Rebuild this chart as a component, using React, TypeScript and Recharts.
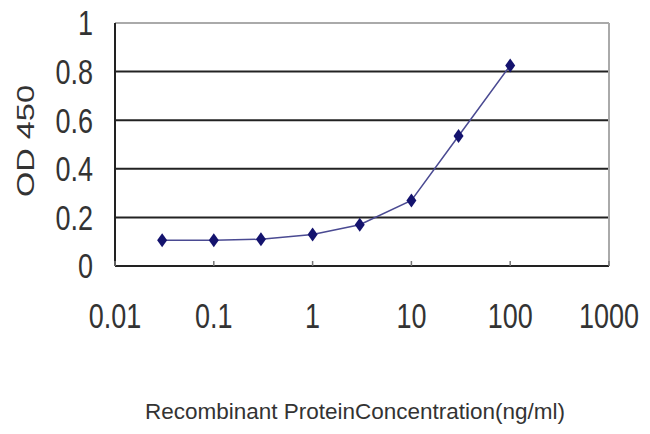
import React from 'react';
import { LineChart, Line, XAxis, YAxis, CartesianGrid, ReferenceLine, Label } from 'recharts';

// ng/ml vs OD 450
const concentrations = [0.03, 0.1, 0.3, 1, 3, 10, 30, 100];
const od450 = [0.106, 0.106, 0.11, 0.13, 0.17, 0.27, 0.535, 0.825];
const xTicks = [0.01, 0.1, 1, 10, 100, 1000];
const yTicks = [0, 0.2, 0.4, 0.6, 0.8, 1];

const data = concentrations.map((c, i) => ({ conc: c, od: od450[i] }));

const FONT = '"Liberation Sans", Arial, sans-serif';

const Diamond = (props: any) => {
  const { cx, cy } = props;
  if (cx == null || cy == null) return null;
  return (
    <polygon
      points={`${cx},${cy - 7} ${cx + 5},${cy} ${cx},${cy + 7} ${cx - 5},${cy}`}
      fill="#14136e"
    />
  );
};

// tick labels in the source are tall and narrow, so stretch them a bit
const XTick = (props: any) => {
  const { x, y, payload } = props;
  const axisY = y - 44;
  return (
    <g>
      <line x1={x} x2={x} y1={axisY} y2={axisY - 5} stroke="#777" strokeWidth={1.5} />
      <text
        transform={`translate(${x},${axisY + 62}) scale(1,1.3)`}
        textAnchor="middle"
        fill="#333"
        fontSize={27}
        fontFamily={FONT}
      >
        {payload.value}
      </text>
    </g>
  );
};

const YTick = (props: any) => {
  const { x, y, payload } = props;
  return (
    <text
      transform={`translate(${x},${y}) scale(1,1.3)`}
      y={9.5}
      textAnchor="end"
      fill="#333"
      fontSize={27}
      fontFamily={FONT}
    >
      {payload.value}
    </text>
  );
};

const App = () => {
  return (
    <div style={{ position: 'absolute', left: 0, top: 0, background: '#fff' }}>
      <LineChart width={650} height={434} data={data} margin={{ top: 23, right: 41, left: 0, bottom: 0 }}>
        <CartesianGrid vertical={false} horizontalValues={[0.2, 0.4, 0.6, 0.8]} stroke="#222" strokeWidth={2} />
        <ReferenceLine y={1} stroke="#aaa" strokeWidth={2} />
        <ReferenceLine x={1000} stroke="#aaa" strokeWidth={2} />
        <XAxis
          dataKey="conc"
          type="number"
          scale="log"
          domain={[0.01, 1000]}
          ticks={xTicks}
          allowDataOverflow
          height={168}
          tickSize={0}
          tickMargin={44}
          tick={<XTick />}
          axisLine={{ stroke: '#222', strokeWidth: 2 }}
          tickLine={false}
        >
          <Label
            content={() => (
              <text
                x={355}
                y={419}
                textAnchor="middle"
                fill="#333"
                fontSize={22}
                fontFamily={FONT}
                textLength={420}
                lengthAdjust="spacingAndGlyphs"
              >
                Recombinant ProteinConcentration(ng/ml)
              </text>
            )}
          />
        </XAxis>
        <YAxis
          type="number"
          domain={[0, 1]}
          ticks={yTicks}
          width={115}
          tickSize={0}
          tickMargin={22}
          tick={<YTick />}
          axisLine={{ stroke: '#222', strokeWidth: 2 }}
          tickLine={false}
        >
          <Label
            content={() => (
              <text
                x={0}
                y={0}
                transform="translate(34,141) rotate(-90)"
                textAnchor="middle"
                fill="#333"
                fontSize={24}
                fontFamily={FONT}
                textLength={112}
                lengthAdjust="spacingAndGlyphs"
              >
                OD 450
              </text>
            )}
          />
        </YAxis>
        <Line
          dataKey="od"
          stroke="#4a4a92"
          strokeWidth={1.5}
          dot={<Diamond />}
          activeDot={false}
          isAnimationActive={false}
        />
      </LineChart>
    </div>
  );
};

export default App;
